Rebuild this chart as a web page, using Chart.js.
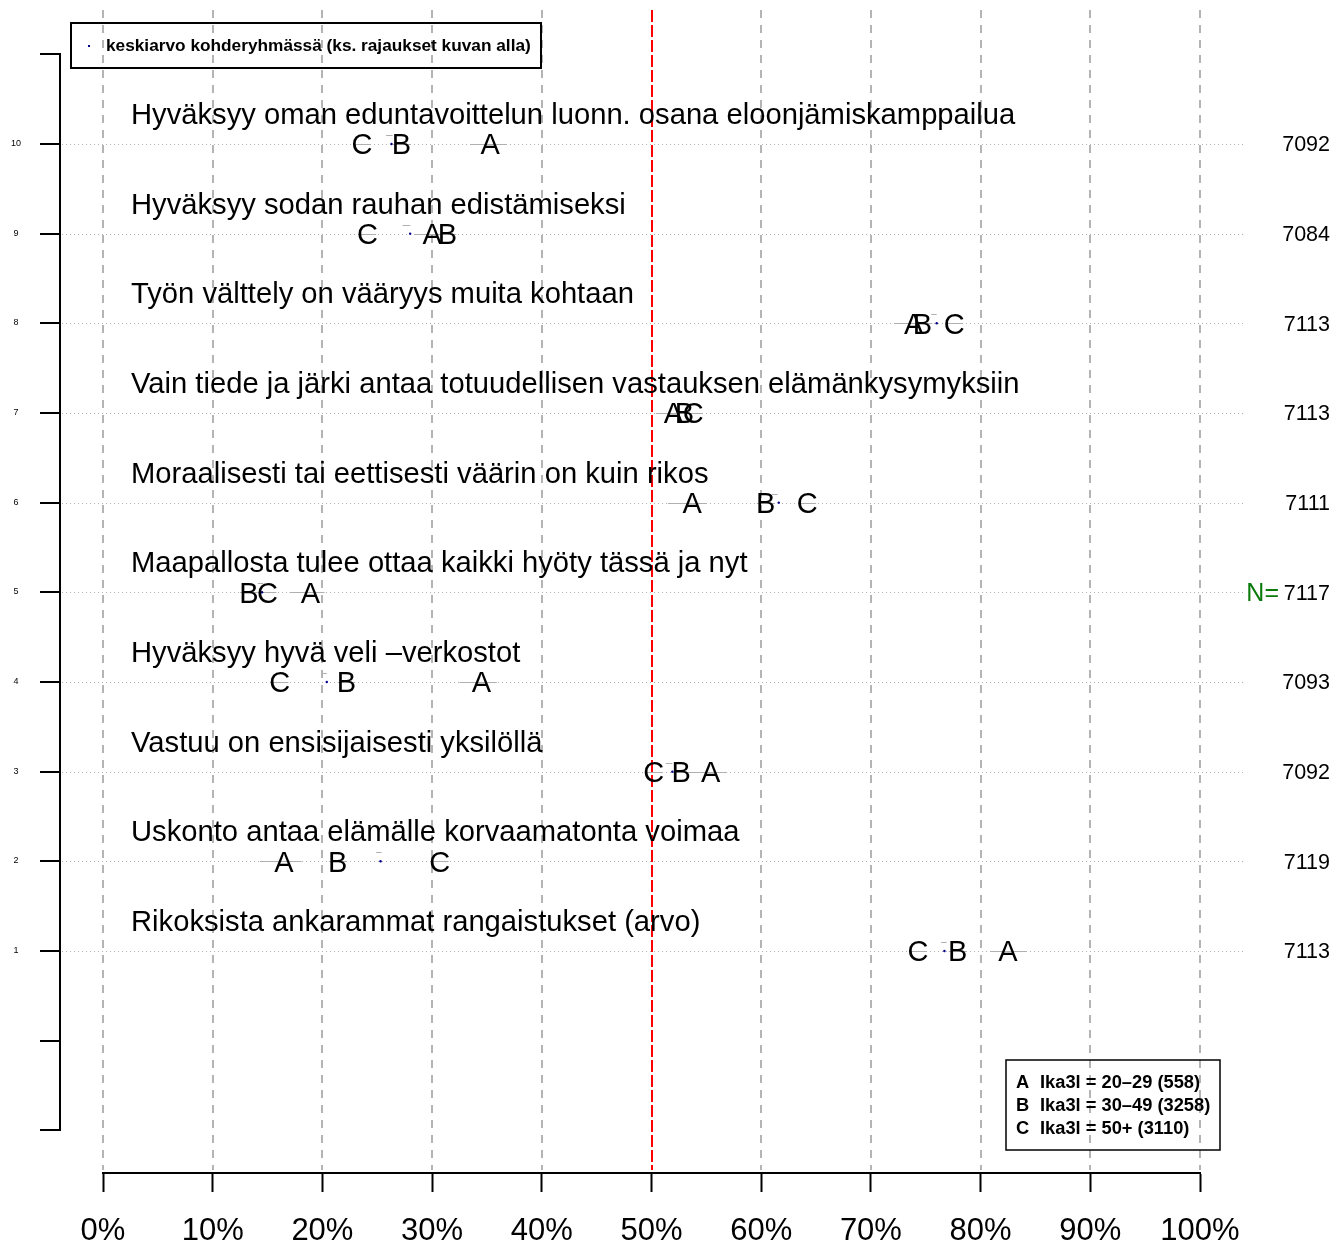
<!DOCTYPE html>
<html>
<head>
<meta charset="utf-8">
<script src="https://cdn.jsdelivr.net/npm/chart.js@4.4.1/dist/chart.umd.min.js"></script>
<style>
html,body{margin:0;padding:0;background:#fff;}
canvas{display:block;}
</style>
</head>
<body>
<canvas id="c" width="1333" height="1247"></canvas>
<script>
// ---- data (row 1 = bottom) ----
const rowPos = [1,2,3,4,5,6,7,8,9,10];
const rowLabels = [
  "Rikoksista ankarammat rangaistukset (arvo)",
  "Uskonto antaa elämälle korvaamatonta voimaa",
  "Vastuu on ensisijaisesti yksilöllä",
  "Hyväksyy hyvä veli –verkostot",
  "Maapallosta tulee ottaa kaikki hyöty tässä ja nyt",
  "Moraalisesti tai eettisesti väärin on kuin rikos",
  "Vain tiede ja järki antaa totuudellisen vastauksen elämänkysymyksiin",
  "Työn välttely on vääryys muita kohtaan",
  "Hyväksyy sodan rauhan edistämiseksi",
  "Hyväksyy oman eduntavoittelun luonn. osana eloonjämiskamppailua"
];
const valA = [82.5, 16.5, 55.4, 34.5, 18.9, 53.7, 52.0, 73.9, 30.0, 35.3];
const valB = [77.9, 21.4, 52.7, 22.2, 13.3, 60.4, 53.0, 74.7, 31.4, 27.2];
const valC = [74.3, 30.7, 50.2, 16.1, 15.0, 64.2, 53.8, 77.6, 24.1, 23.6];
const meanVal = [76.7, 25.3, 51.9, 20.4, 14.5, 61.6, 53.2, 76.0, 28.0, 26.3];
const ciALo = [80.9, 14.3, 53.2, 32.5, 17.0, 51.5, 50.4, 72.2, 28.4, 33.5];
const ciAHi = [84.2, 18.1, 56.9, 35.9, 20.2, 55.0, 53.6, 75.6, 31.6, 36.8];
const ciBLo = [77.1, 20.6, 51.9, 21.4, 12.5, 59.6, 52.2, 73.9, 30.6, 26.4];
const ciBHi = [78.7, 22.2, 53.5, 23.0, 14.1, 61.2, 53.8, 75.5, 32.2, 28.0];
const ciCLo = [73.5, 29.9, 49.4, 15.3, 14.2, 63.4, 53.0, 76.8, 23.3, 22.8];
const ciCHi = [75.1, 31.5, 51.0, 16.9, 15.8, 65.0, 54.6, 78.4, 24.9, 24.4];
const meanLo = [76.4, 24.9, 51.3, 20.0, 14.1, 61.0, 52.8, 75.5, 27.3, 25.8];
const meanHi = [76.9, 25.4, 51.9, 20.4, 14.6, 61.5, 53.2, 76.0, 28.0, 26.4];
const nVals = [7113, 7119, 7092, 7093, 7117, 7111, 7113, 7113, 7084, 7092];
const xTicks = [0,10,20,30,40,50,60,70,80,90,100];
const yTicks = [-1,0,1,2,3,4,5,6,7,8,9,10,11];
const groupLetters = ["A","B","C"];
const legendMain = "keskiarvo kohderyhmässä (ks. rajaukset kuvan alla)";
const groupLegend = ["Ika3l = 20–29 (558)", "Ika3l = 30–49 (3258)", "Ika3l = 50+ (3110)"];
const refLine = 50;

const FONT = '"Liberation Sans", Arial, Helvetica, sans-serif';

function pts(vals){ return vals.map((v,i)=>({x:v, y:rowPos[i]})); }

const drawPlugin = {
  id: 'rdraw',
  beforeDatasetsDraw(chart){
    const ctx = chart.ctx, xs = chart.scales.x, ys = chart.scales.y, ca = chart.chartArea;
    ctx.save();
    // vertical dashed grid
    ctx.strokeStyle = '#b4b4b4'; ctx.lineWidth = 2; ctx.setLineDash([8,7]);
    xTicks.forEach(t=>{
      const x = Math.round(xs.getPixelForValue(t));
      ctx.beginPath(); ctx.moveTo(x, ca.top); ctx.lineTo(x, ca.bottom-3); ctx.stroke();
    });
    // red reference
    ctx.strokeStyle = '#ff0000'; ctx.setLineDash([12,3]);
    const xr = Math.round(xs.getPixelForValue(refLine));
    ctx.beginPath(); ctx.moveTo(xr, ca.top); ctx.lineTo(xr, ca.bottom-3); ctx.stroke();
    // dotted row lines
    ctx.strokeStyle = '#b0b0b0'; ctx.lineWidth = 1; ctx.setLineDash([1,3]);
    rowPos.forEach(r=>{
      const y = Math.round(ys.getPixelForValue(r))+0.5;
      ctx.beginPath(); ctx.moveTo(62, y); ctx.lineTo(1245, y); ctx.stroke();
    });
    ctx.setLineDash([]);
    // interval lines
    ctx.strokeStyle = '#b0b0b0'; ctx.lineWidth = 1;
    const seg = (lo,hi,r)=>{
      const y = Math.round(ys.getPixelForValue(r))+0.5;
      ctx.beginPath(); ctx.moveTo(xs.getPixelForValue(lo), y); ctx.lineTo(xs.getPixelForValue(hi), y); ctx.stroke();
    };
    rowPos.forEach((r,i)=>{
      seg(ciALo[i], ciAHi[i], r);
      seg(ciBLo[i], ciBHi[i], r);
      seg(ciCLo[i], ciCHi[i], r);
      seg(meanLo[i], meanHi[i], r+0.1);
    });
    ctx.restore();
  },
  afterDatasetsDraw(chart){
    const ctx = chart.ctx, xs = chart.scales.x, ys = chart.scales.y;
    ctx.save();
    // group letters
    ctx.fillStyle = '#000';
    ctx.font = '29px ' + FONT;
    ctx.textAlign = 'center'; ctx.textBaseline = 'alphabetic';
    [0,1,2].forEach(d=>{
      const meta = chart.getDatasetMeta(d);
      meta.data.forEach(el=>{
        ctx.fillText(groupLetters[d], el.x, el.y + 10.5);
      });
    });
    // row labels
    ctx.font = '29.2px ' + FONT;
    ctx.textAlign = 'left';
    rowPos.forEach((r,i)=>{
      const y = ys.getPixelForValue(r);
      ctx.fillText(rowLabels[i], 131, y - 20);
    });
    // N values
    ctx.font = '21.5px ' + FONT;
    ctx.textAlign = 'right';
    rowPos.forEach((r,i)=>{
      const y = ys.getPixelForValue(r);
      ctx.fillText(String(nVals[i]), 1330, y + 7.5);
    });
    ctx.fillStyle = '#0a7a0a';
    ctx.font = '25px ' + FONT;
    ctx.fillText('N=', 1279, ys.getPixelForValue(5) + 9);
    // y axis
    ctx.strokeStyle = '#000'; ctx.lineWidth = 2;
    const yTop = ys.getPixelForValue(yTicks[yTicks.length-1]);
    const yBot = ys.getPixelForValue(yTicks[0]);
    ctx.beginPath(); ctx.moveTo(60, yTop); ctx.lineTo(60, yBot); ctx.stroke();
    ctx.fillStyle = '#000'; ctx.font = '9px ' + FONT; ctx.textAlign = 'center'; ctx.textBaseline = 'middle';
    yTicks.forEach(t=>{
      const y = Math.round(ys.getPixelForValue(t));
      ctx.beginPath(); ctx.moveTo(40, y); ctx.lineTo(61, y); ctx.stroke();
      if (t >= 1 && t <= 10) ctx.fillText(String(t), 16, y);
    });
    // top legend
    ctx.lineWidth = 2; ctx.strokeStyle = '#000';
    ctx.strokeRect(71, 23, 470, 45);
    ctx.fillStyle = '#00008b';
    ctx.fillRect(88, 45, 2, 2);
    ctx.fillStyle = '#000'; ctx.textAlign = 'left'; ctx.textBaseline = 'middle';
    ctx.font = 'bold 17.25px ' + FONT;
    ctx.fillText(legendMain, 106, 46);
    // group legend
    ctx.lineWidth = 1.5;
    ctx.strokeRect(1006, 1060, 214, 90);
    ctx.font = 'bold 18.3px ' + FONT;
    groupLegend.forEach((t,i)=>{
      const y = 1083 + i*23;
      ctx.fillText(groupLetters[i], 1016, y);
      ctx.fillText(t, 1040, y);
    });
    ctx.restore();
  }
};

new Chart(document.getElementById('c'), {
  type: 'scatter',
  data: {
    datasets: [
      {label:'A', data: pts(valA), pointRadius: 0, clip: false},
      {label:'B', data: pts(valB), pointRadius: 0, clip: false},
      {label:'C', data: pts(valC), pointRadius: 0, clip: false},
      {label:'keskiarvo', data: pts(meanVal), pointRadius: 1.2, pointBorderWidth: 0,
       backgroundColor: '#00008b', borderColor: '#00008b', clip: false}
    ]
  },
  options: {
    responsive: false,
    devicePixelRatio: 1,
    animation: false,
    events: [],
    layout: { padding: { left: 103, right: 133, top: 10, bottom: 0 } },
    plugins: { legend: {display: false}, tooltip: {enabled: false} },
    scales: {
      x: {
        type: 'linear', min: 0, max: 100, position: 'bottom',
        afterFit: (s)=>{ s.height = 74; },
        afterBuildTicks: (s)=>{ s.ticks = xTicks.map(v=>({value:v})); },
        ticks: { callback: v => v + '%', color: '#000', padding: 21, maxRotation: 0, autoSkip: false,
                 font: { size: 31, family: FONT } },
        grid: { drawOnChartArea: false, drawTicks: true, tickLength: 19, tickColor: '#000', tickWidth: 2 },
        border: { display: true, color: '#000', width: 2 }
      },
      y: {
        type: 'linear', min: -1.476, max: 11.494, display: false
      }
    }
  },
  plugins: [drawPlugin]
});
</script>
</body>
</html>
